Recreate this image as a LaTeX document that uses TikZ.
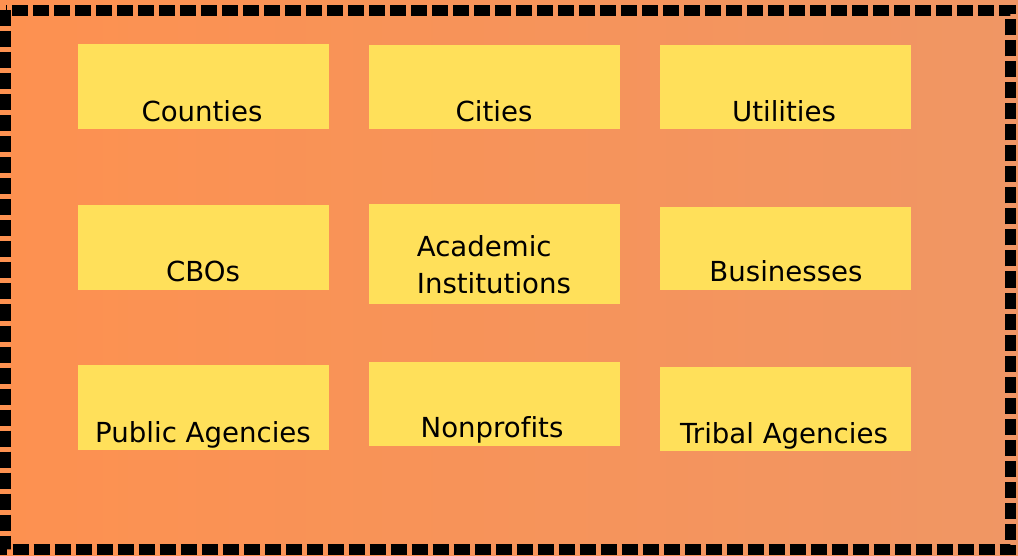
\documentclass[tikz,border=0pt]{standalone}
\usepackage{fontspec}
\setmainfont[Ligatures=NoCommon]{DejaVu Sans}
\definecolor{bgL}{RGB}{253,145,80}
\definecolor{bgR}{RGB}{240,150,100}
\definecolor{boxY}{RGB}{255,224,90}
\tikzset{
  card/.style={fill=boxY, draw=none, inner sep=0pt},
  lbl/.style={anchor=base, inner sep=0pt, font=\fontsize{27.6}{37.7}\selectfont, text=black},
}
\begin{document}
\begin{tikzpicture}[x=1pt,y=-1pt]
\useasboundingbox (0,0) rectangle (1018,556);
\shade[left color=bgL, right color=bgR] (0,0) rectangle (1018,556);
\draw[line width=11pt, dash pattern=on 16pt off 5pt, black] (5.5,10.5) rectangle (1010.5,549.5);
% row 1
\path[card] (78,44) rectangle (329,129) node[pos=0.5] (b1) {};
\path[card] (369,45) rectangle (620,129) node[pos=0.5] (b2) {};
\path[card] (660,45) rectangle (911,129) node[pos=0.5] (b3) {};
% row 2
\path[card] (78,205) rectangle (329,290) node[pos=0.5] (b4) {};
\path[card] (369,204) rectangle (620,304) node[pos=0.5] (b5) {};
\path[card] (660,207) rectangle (911,290) node[pos=0.5] (b6) {};
% row 3
\path[card] (78,365) rectangle (329,450) node[pos=0.5] (b7) {};
\path[card] (369,362) rectangle (620,446) node[pos=0.5] (b8) {};
\path[card] (660,367) rectangle (911,451) node[pos=0.5] (b9) {};
% labels
\node[lbl] (t1) at (202,122) {Counties};
\node[lbl] (t2) at (494,122) {Cities};
\node[lbl] (t3) at (784,122) {Utilities};
\node[lbl] (t4) at (203,282) {CBOs};
\node[lbl, anchor=base west] (t5a) at (416.7,256.7) {Academic};
\node[lbl, anchor=base west] (t5b) at (416.7,294) {Institutions};
\node[lbl] (t6) at (786,282) {Businesses};
\node[lbl] (t7) at (203,442) {Public Agencies};
\node[lbl] (t8) at (492,437) {Nonprofits};
\node[lbl] (t9) at (784,443) {Tribal Agencies};
\end{tikzpicture}
\end{document}
